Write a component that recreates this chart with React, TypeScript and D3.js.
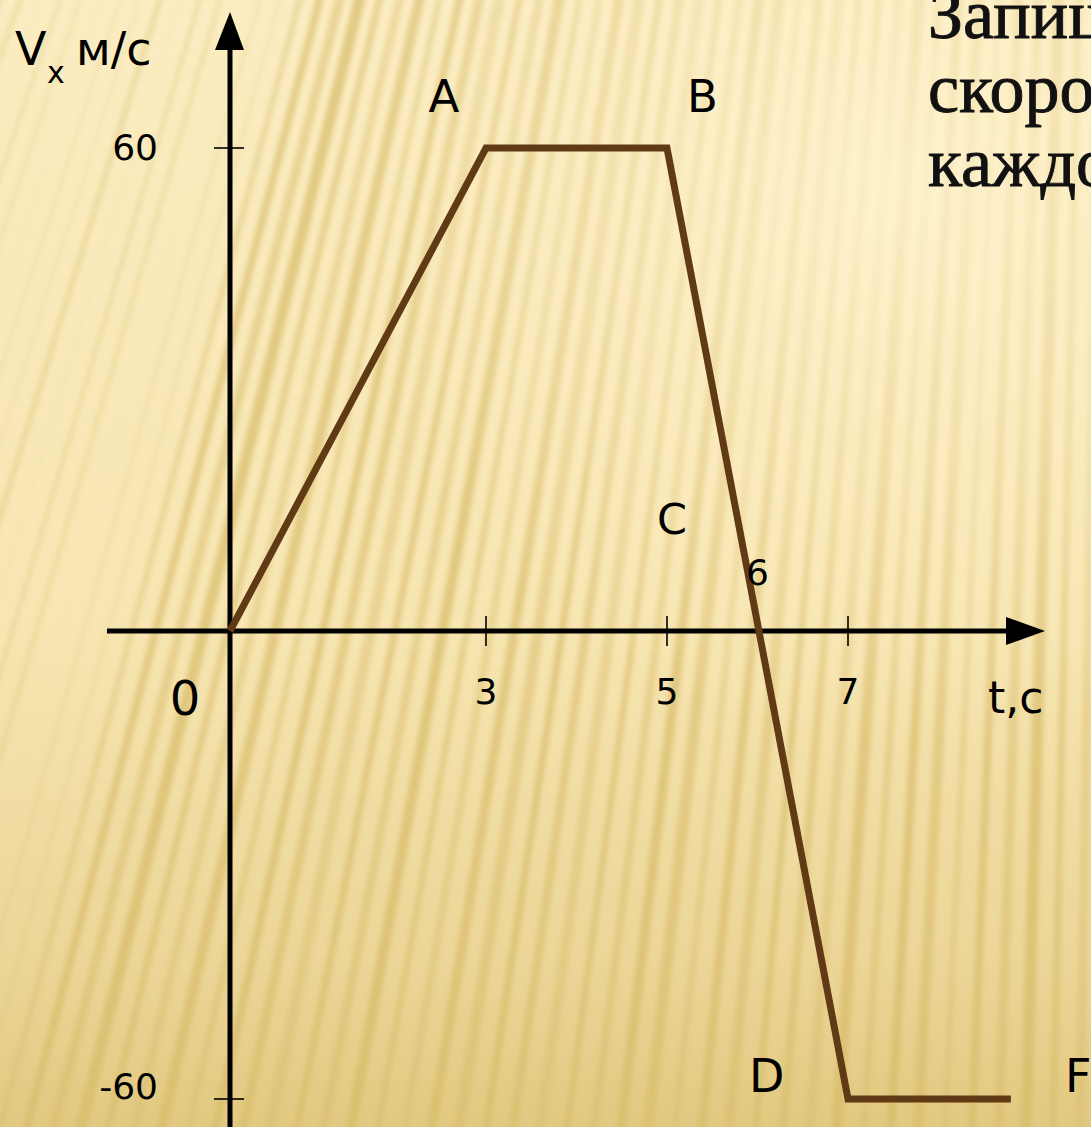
import React from "react";
import * as d3 from "d3";

// Velocity–time graph: v_x (m/s) against t (s)
const times = [0, 3, 5, 7, 8.8];
const velocities = [0, 60, 60, -60, -60];

const xTickValues = [3, 5, 7];
const xTickLabels = ["3", "5", "7"];
const yTickValues = [60, -60];
const yTickLabels = ["60", "-60"];
const pointNames = ["A", "B", "C", "D", "F"];
const crossingTime = 6;
const taskLines = ["Запишите уравнение", "скорости для", "каждого участка"];

const W = 1091;
const H = 1127;

export default function App() {
  React.useEffect(() => {
    document.body.style.margin = "0";
  }, []);

  // hand-drawn grid: tick spacing is not uniform, so the scales are piecewise
  const x = d3.scaleLinear().domain([0, 3, 5, 7]).range([230, 486, 667, 848]);
  const y = d3.scaleLinear().domain([-60, 0, 60]).range([1099, 631, 148]);

  const pts: [number, number][] = times.map((t, i) => [t, velocities[i]]);
  const line = d3
    .line<[number, number]>()
    .x((d) => x(d[0]))
    .y((d) => y(d[1]));

  const x0 = x(0);
  const y0 = y(0);

  // background streaks fanning out from a point high above the page
  const focus = { x: 1150, y: -3200 };
  const streaks = d3.range(-30, 60).map((i) => {
    const bx = i * 27;
    const w = 6 + ((i * 37) % 7) * 0.9;
    const op = 0.4 + (((i * 53) % 5) / 5) * 0.35;
    const ex = focus.x + (bx - focus.x) * 1.1;
    const ey = focus.y + (H - focus.y) * 1.1;
    return { x1: focus.x, y1: focus.y, x2: ex, y2: ey, w, op };
  });

  const font = "'DejaVu Sans', Verdana, sans-serif";

  return (
    <svg
      width={W}
      height={H}
      style={{ position: "absolute", left: 0, top: 0, display: "block" }}
      xmlns="http://www.w3.org/2000/svg"
    >
      <defs>
        <linearGradient id="bg" x1="0" y1="0" x2="0" y2="1">
          <stop offset="0" stopColor="#FBEDC2" />
          <stop offset="0.55" stopColor="#F7E6B2" />
          <stop offset="0.85" stopColor="#ECD698" />
          <stop offset="1" stopColor="#E2C981" />
        </linearGradient>
        <radialGradient id="glow" cx="900" cy="180" r="560" gradientUnits="userSpaceOnUse">
          <stop offset="0" stopColor="#FFF3D0" stopOpacity="0.85" />
          <stop offset="0.5" stopColor="#FEF0C8" stopOpacity="0.5" />
          <stop offset="1" stopColor="#FDEFC6" stopOpacity="0" />
        </radialGradient>
        <filter id="soft" x="-20%" y="-20%" width="140%" height="140%">
          <feGaussianBlur stdDeviation="2.8" />
        </filter>
      </defs>

      <rect x={0} y={0} width={W} height={H} fill="url(#bg)" />
      <g filter="url(#soft)">
        {streaks.map((s, i) => (
          <line
            key={i}
            x1={s.x1}
            y1={s.y1}
            x2={s.x2}
            y2={s.y2}
            stroke="#D6B966"
            strokeOpacity={s.op}
            strokeWidth={s.w}
          />
        ))}
      </g>
      <rect x={0} y={0} width={W} height={H} fill="url(#glow)" />

      {/* task text, running off the right edge */}
      <g
        fontFamily="'Liberation Serif', 'Times New Roman', serif"
        fontSize={70}
        fill="#111"
        stroke="#111"
        strokeWidth={0.9}
      >
        {taskLines.map((s, i) => (
          <text key={i} x={928} y={38 + i * 74}>
            {s}
          </text>
        ))}
      </g>

      {/* axes */}
      <g fill="#000" stroke="#000">
        <line x1={x0} y1={50} x2={x0} y2={H + 5} strokeWidth={5} />
        <polygon points={`${x0},12 ${x0 - 15},50 ${x0 + 14},50`} stroke="none" />
        <line x1={107} y1={y0} x2={1008} y2={y0} strokeWidth={5} />
        <polygon points={`1045,${y0} 1006,${y0 - 14} 1006,${y0 + 14}`} stroke="none" />

        {xTickValues.map((t) => (
          <line key={t} x1={x(t)} x2={x(t)} y1={y0 - 15} y2={y0 + 15} strokeWidth={1.6} />
        ))}
        {yTickValues.map((v) => (
          <line key={v} x1={x0 - 16} x2={x0 + 14} y1={y(v)} y2={y(v)} strokeWidth={1.6} />
        ))}
      </g>

      {/* graph */}
      <path
        d={line(pts) || ""}
        fill="none"
        stroke="#603A15"
        strokeWidth={7}
        strokeLinejoin="miter"
        strokeLinecap="butt"
      />

      {/* labels */}
      <g fontFamily={font} fill="#000">
        {xTickValues.map((t, i) => (
          <text key={t} x={x(t)} y={y0 + 73} fontSize={36} textAnchor="middle">
            {xTickLabels[i]}
          </text>
        ))}
        {yTickValues.map((v, i) => (
          <text key={v} x={x0 - 72} y={y(v) + (v > 0 ? 12 : 0)} fontSize={36} textAnchor="end">
            {yTickLabels[i]}
          </text>
        ))}
        <text x={x0 - 45} y={y0 + 84} fontSize={48} textAnchor="middle">
          0
        </text>
        <text x={x(crossingTime)} y={y0 - 46} fontSize={36} textAnchor="middle">
          {String(crossingTime)}
        </text>
        <text x={988} y={y0 + 82} fontSize={44}>
          t,c
        </text>

        <text x={15} y={65} fontSize={46}>
          V
        </text>
        <text x={47} y={83} fontSize={30}>
          x
        </text>
        <text x={76} y={65} fontSize={46}>
          м/с
        </text>

        <text x={x(3) - 42} y={y(60) - 36} fontSize={45} textAnchor="middle">
          {pointNames[0]}
        </text>
        <text x={x(5) + 20} y={y(60) - 36} fontSize={45}>
          {pointNames[1]}
        </text>
        <text x={x(5) + 5} y={y0 - 97} fontSize={43} textAnchor="middle">
          {pointNames[2]}
        </text>
        <text x={x(7) - 99} y={y(-60) - 7} fontSize={46}>
          {pointNames[3]}
        </text>
        <text x={x(8.8) + 54} y={y(-60) - 7} fontSize={46}>
          {pointNames[4]}
        </text>
      </g>
    </svg>
  );
}
